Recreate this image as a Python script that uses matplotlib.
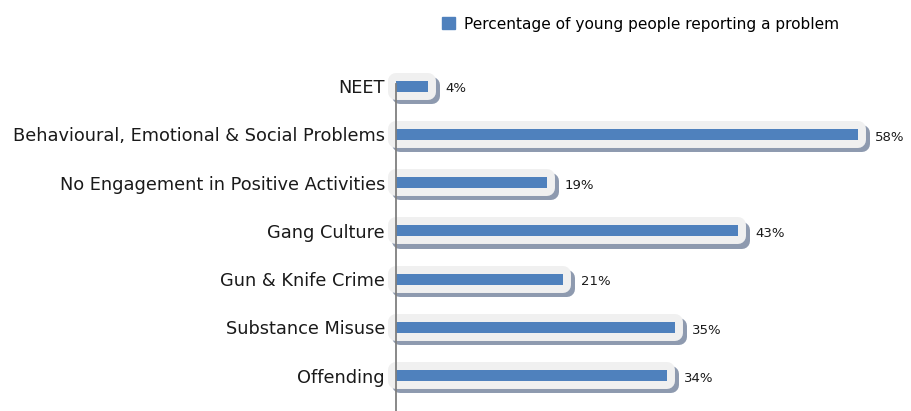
import matplotlib
matplotlib.use('Agg')
import matplotlib.pyplot as plt
import matplotlib.patches as mpatches
import matplotlib.patheffects as pe
import numpy as np

categories = ['NEET', 'Behavioural, Emotional & Social Problems',
              'No Engagement in Positive Activities', 'Gang Culture',
              'Gun & Knife Crime', 'Substance Misuse', 'Offending']
values = [4, 58, 19, 43, 21, 35, 34]
series_name = 'Percentage of young people reporting a problem'

plt.rcParams['font.family'] = ['DejaVu Sans']

fig = plt.figure(figsize=(9.11, 4.11), dpi=100)
ax = fig.add_axes([396 / 911, 0, (880 - 396) / 911, 1 - 62 / 411])

y = np.arange(len(categories))
effects = [
    pe.Stroke(linewidth=11.5, foreground='#8E9AAF', joinstyle='round', offset=(3, -3)),
    pe.Stroke(linewidth=11.5, foreground='#F0F0F0', joinstyle='round'),
    pe.Normal(),
]
bars = ax.barh(y, values, height=0.23, color='#4F81BD', path_effects=effects,
               zorder=2, clip_on=False)

for yi, v in zip(y, values):
    ax.annotate(f'{v}%', (v, yi), xytext=(12.5, -2), textcoords='offset points',
                va='center', ha='left', fontsize=9.5, color='#1a1a1a')

ax.set_xlim(0, 60.8)
ax.set_ylim(6.73, -0.5)
ax.set_yticks(y)
ax.set_yticklabels(categories, fontsize=12.8, color='#1a1a1a')
ax.tick_params(axis='y', length=0, pad=8)
ax.set_xticks([])

for s in ['top', 'right', 'bottom']:
    ax.spines[s].set_visible(False)
ax.spines['left'].set_color('#7F7F7F')
ax.spines['left'].set_linewidth(1.3)
ax.spines['left'].set_bounds(-0.05, 6.73)
ax.spines['left'].set_zorder(3)

handle = mpatches.Patch(color='#4F81BD', label=series_name)
fig.legend(handles=[handle], loc='center left', bbox_to_anchor=(442 / 911, 1 - 24 / 411),
           frameon=False, fontsize=11.1, handlelength=0.85, handleheight=0.85,
           handletextpad=0.55, borderpad=0, borderaxespad=0)

fig.savefig('out.png', dpi=100)
